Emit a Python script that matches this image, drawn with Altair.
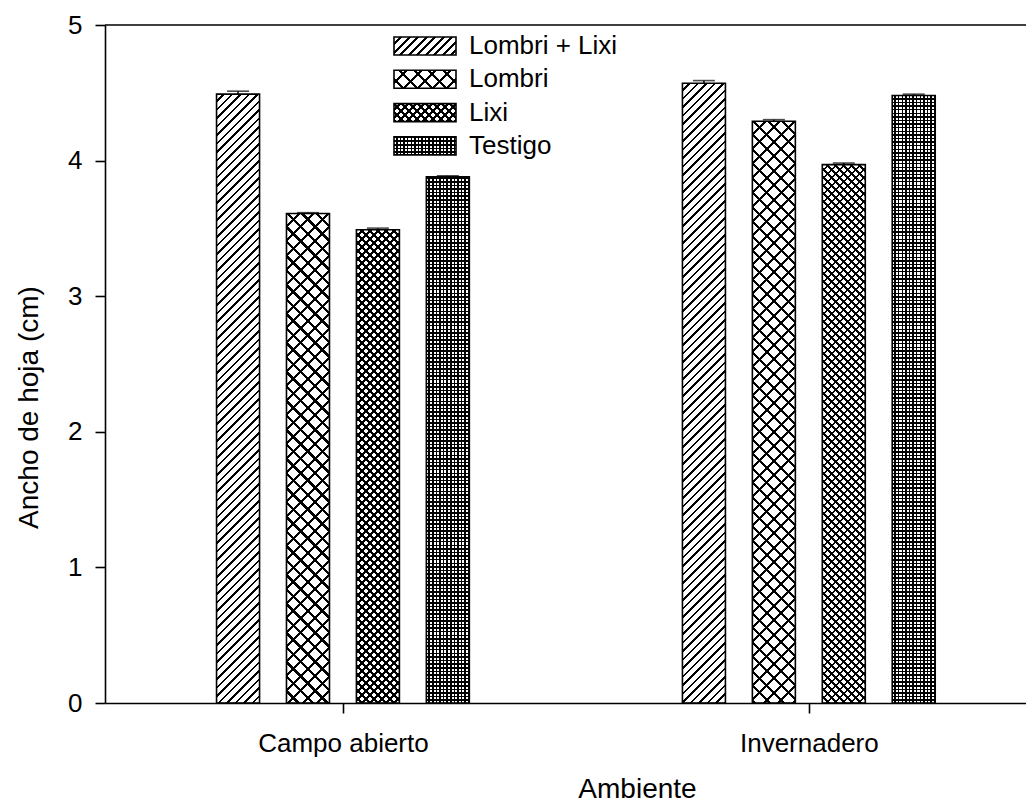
import math
import altair as alt
import pandas as pd

# ---------------- data ----------------
ambientes = ["Campo abierto", "Invernadero"]
tratamientos = ["Lombri + Lixi", "Lombri", "Lixi", "Testigo"]
campo_vals = [4.49, 3.61, 3.49, 3.88]
campo_err = [0.022, 0.006, 0.012, 0.008]
inv_vals = [4.57, 4.29, 3.97, 4.48]
inv_err = [0.02, 0.012, 0.012, 0.01]
y_ticks = [0, 1, 2, 3, 4, 5]

# ---------------- layout / style ----------------
PLOT_W, PLOT_H = 921, 678
PAD = {"left": 97, "top": 17, "right": 0, "bottom": 104}
GROUP_PX = 471.0          # distance between group centres in px
BAR_STEP_PX = 70.7        # distance between bars within a group
BAR_W = 43
Y_MAX = 5
FONT = "Liberation Sans"
CLEAR = "rgba(0,0,0,0)"
INK = "black"

# hatch definitions: (kind, period_px, line_px)
patterns = {
    "Lombri + Lixi": [("up", 8.5, 1.8)],
    "Lombri": [("up", 14.5, 2.2), ("down", 14.5, 2.2)],
    "Lixi": [("up", 8.0, 1.9), ("down", 8.0, 1.9)],
    "Testigo": [("vert", 3.6, 1.5), ("horz", 3.6, 1.5)],
}

rows = []
for g, (vals, errs) in enumerate([(campo_vals, campo_err), (inv_vals, inv_err)]):
    for i, t in enumerate(tratamientos):
        rows.append({
            "id": len(rows),
            "ambiente": ambientes[g],
            "tratamiento": t,
            "valor": vals[i],
            "hi": vals[i] + errs[i],
            "pos": g + (i - 1.5) * BAR_STEP_PX / GROUP_PX,
        })
df = pd.DataFrame(rows)


def stops(n, frac):
    out = []
    k = 0
    while k / n < 1:
        a = k / n
        b = min((k + 1 - frac) / n, 1.0)
        c = min((k + 1) / n, 1.0)
        out += [(a, CLEAR), (b, CLEAR), (b, INK), (c, INK)]
        k += 1
    return [alt.GradientStop(color=col, offset=round(o, 5)) for o, col in out]


def gradient(kind, period, lw, w, h):
    if kind in ("up", "down"):
        n = (w + h) / period
        frac = lw / (period / math.sqrt(2))
        k = (w + h) / (w * w + h * h)
        if kind == "up":
            x1, y1, x2, y2 = 0, 0, w * k, h * k
        else:
            x1, y1, x2, y2 = 1, 0, 1 - w * k, h * k
    elif kind == "vert":
        n = w / period
        frac = lw / period
        x1, y1, x2, y2 = 0, 0, 1, 0
    else:
        n = h / period
        frac = lw / period
        x1, y1, x2, y2 = 0, 1, 0, 0
    return alt.Gradient(gradient="linear", stops=stops(n, frac),
                        x1=x1, y1=y1, x2=x2, y2=y2)


xscale = alt.Scale(domain=[-0.5, -0.5 + PLOT_W / GROUP_PX], nice=False, zero=False)
yscale = alt.Scale(domain=[0, Y_MAX], nice=False)
label_expr = "[" + ",".join("'%s'" % a for a in ambientes) + "][datum.value]"

xaxis = alt.Axis(values=[0, 1], labelExpr=label_expr, tickSize=10, labelFontSize=26,
                 labelPadding=17, labelFlush=False, grid=False,
                 title="Ambiente", titleFontSize=28, titleFontWeight="normal",
                 titleX=532, titleY=94, titleBaseline="alphabetic", titleAlign="center")
yaxis = alt.Axis(values=y_ticks, format="d", tickSize=10, labelFontSize=26,
                 labelPadding=13, grid=False,
                 title="Ancho de hoja (cm)", titleFontSize=28, titleFontWeight="normal",
                 titleAngle=-90, titleX=-68, titleY=382, titleBaseline="alphabetic",
                 titleAlign="center")

X = alt.X("pos:Q", scale=xscale, axis=xaxis)
Y = alt.Y("valor:Q", scale=yscale, axis=yaxis)

base = alt.Chart(df)
layers = []

# hatch layers, one per bar and direction
for r in rows:
    h = r["valor"] * PLOT_H / Y_MAX
    for kind, period, lw in patterns[r["tratamiento"]]:
        layers.append(
            base.mark_bar(size=BAR_W, orient="vertical",
                          fill=gradient(kind, period, lw, BAR_W, h))
            .encode(x=X, y=Y)
            .transform_filter(alt.datum.id == r["id"])
        )

# outlines
layers.append(
    base.mark_bar(size=BAR_W, orient="vertical", fill="white", fillOpacity=0,
                  stroke=INK, strokeWidth=1.6)
    .encode(x=X, y=Y)
)

# error bars (upper only)
layers.append(
    base.mark_rule(color=INK, strokeWidth=1.5)
    .encode(x=X, y=Y, y2="hi:Q")
)
layers.append(
    base.mark_tick(orient="horizontal", size=22, thickness=1.6, color=INK)
    .encode(x=X, y=alt.Y("hi:Q", scale=yscale, axis=yaxis))
)

# legend (manual, so the swatches can carry the hatch)
leg = pd.DataFrame({"tratamiento": tratamientos})
SW_X, SW_W, SW_H = 289, 62, 18
ROW0, ROW_GAP = 21, 33.3
for i, t in enumerate(tratamientos):
    cy = ROW0 + ROW_GAP * i
    lb = alt.Chart(leg).transform_filter(alt.datum.tratamiento == t)
    enc = dict(x=alt.value(SW_X), x2=alt.value(SW_X + SW_W),
               y=alt.value(cy - SW_H / 2), y2=alt.value(cy + SW_H / 2))
    for kind, period, lw in patterns[t]:
        layers.append(lb.mark_rect(fill=gradient(kind, period, lw, SW_W, SW_H)).encode(**enc))
    layers.append(lb.mark_rect(fill="white", fillOpacity=0, stroke=INK,
                               strokeWidth=1.6).encode(**enc))
    layers.append(
        lb.mark_text(align="left", baseline="middle", fontSize=26, font=FONT, color=INK)
        .encode(x=alt.value(364), y=alt.value(cy), text="tratamiento:N")
    )

# top frame line
layers.append(
    alt.Chart(pd.DataFrame({"k": [0]}))
    .mark_rule(color=INK, strokeWidth=1.5)
    .encode(x=alt.value(0), x2=alt.value(PLOT_W), y=alt.value(0))
)

chart = (
    alt.layer(*layers)
    .properties(width=PLOT_W, height=PLOT_H, padding=PAD,
                autosize=alt.AutoSizeParams(type="none"))
    .configure(font=FONT)
    .configure_view(stroke=None)
    .configure_axis(domainColor=INK, domainWidth=1.6, tickColor=INK, tickWidth=1.6,
                    labelColor=INK, titleColor=INK, labelFont=FONT, titleFont=FONT)
)

chart.save("out.html", embed_options={"renderer": "svg", "actions": False})
